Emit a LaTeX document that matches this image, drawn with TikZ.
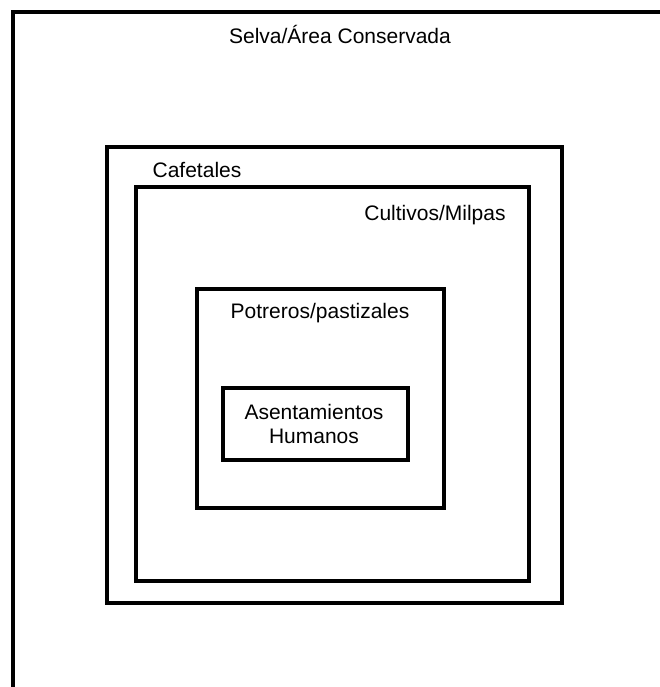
\documentclass[tikz,border=0pt]{standalone}
\usepackage{fontspec}
\setmainfont{Liberation Sans}
\usepackage{tikz}

\tikzset{
  zona/.style={line width=4pt},
  rotulo/.style={anchor=base, inner sep=0pt, font=\fontsize{21}{24}\selectfont, align=center}
}

\begin{document}
\begin{tikzpicture}[x=1pt,y=-1pt]
\useasboundingbox (0,0) rectangle (660,687);

% Selva (outer area, open to the right and bottom)
\draw[zona] (13,687) -- (13,12) -- (660,12);
\node[rotulo] (selva) at (340,44) {Selva/\'Area Conservada};

% Cafetales
\draw[zona] (107,147) rectangle (562,603);
\node[rotulo] (cafetales) at (197,177) {Cafetales};

% Cultivos/Milpas
\draw[zona] (135.5,186.5) rectangle (529,581);
\node[rotulo] (cultivos) at (435,220) {Cultivos/Milpas};

% Potreros/pastizales
\draw[zona] (197,289) rectangle (443.5,508);
\node[rotulo] (potreros) at (320,318) {Potreros/pastizales};

% Asentamientos humanos
\draw[zona] (223,388) rectangle (408,460);
\node[rotulo] (asentamientos) at (314,443) {Asentamientos\\Humanos};

\end{tikzpicture}
\end{document}
